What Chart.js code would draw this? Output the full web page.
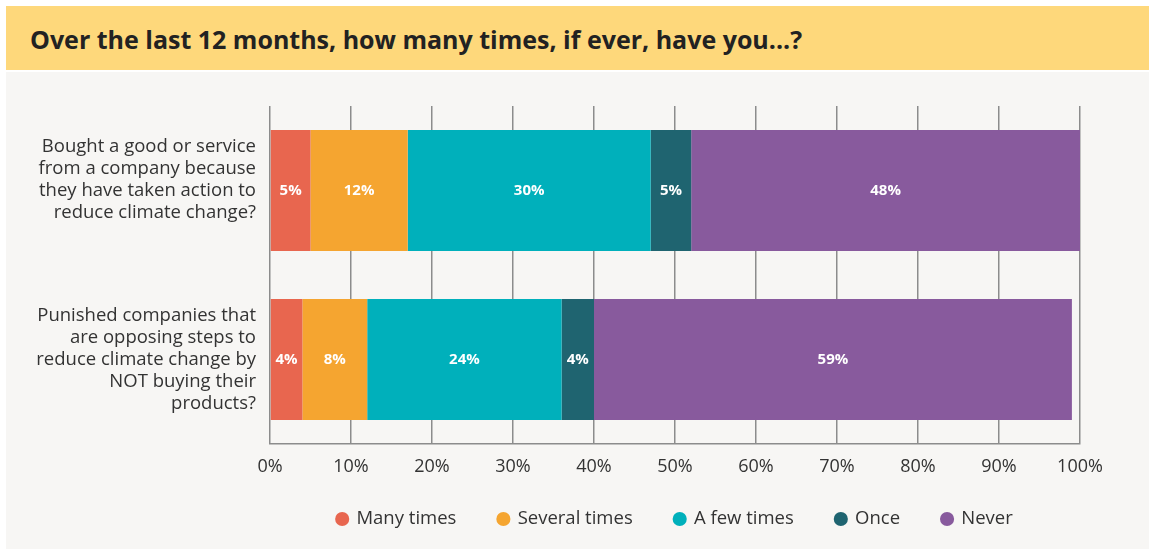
<!DOCTYPE html>
<html>
<head>
<meta charset="utf-8">
<script src="https://cdn.jsdelivr.net/npm/chart.js@4"></script>
<style>
	body { margin:0; background:#fff; font-family:"Open Sans", sans-serif; }
	#title_band {
		position:absolute; left:6px; top:6px; width:1143px; height:64px;
		background:#FED87B;
	}
	#title_band h1 {
		margin:0; position:absolute; left:24px; top:17px;
		font-size:25px; font-weight:700; color:#222; line-height:32px;
	}
	#chart_box {
		position:absolute; left:6px; top:72px; width:1143px; height:477px;
		background:#F7F6F4;
	}
</style>
</head>
<body>
<div id="title_band"><h1>Over the last 12 months, how many times, if ever, have you...?</h1></div>
<div id="chart_box"><canvas id="chart" width="1143" height="477"></canvas></div>
<script>
// first label sits a little high in the original, so it gets an empty last line
var categories = [
	["Bought a good or service", "from a company because", "they have taken action to", "reduce climate change?", ""],
	["Punished companies that", "are opposing steps to", "reduce climate change by", "NOT buying their", "products?"]
];
var seriesNames = ["Many times", "Several times", "A few times", "Once", "Never"];
var manyTimes = [5, 4];
var severalTimes = [12, 8];
var fewTimes = [30, 24];
var once = [5, 4];
var never = [48, 59];
var xTicks = [0, 10, 20, 30, 40, 50, 60, 70, 80, 90, 100];

var colors = ["#E8664F", "#F5A530", "#00B0BB", "#1F6470", "#885A9D"];
var gridColor = "#8C8C8C";

var seriesValues = [manyTimes, severalTimes, fewTimes, once, never];
var datasets = seriesValues.map(function(vals, i) {
	return {
		label: seriesNames[i],
		data: vals,
		backgroundColor: colors[i],
		borderWidth: 0,
		categoryPercentage: 1,
		barPercentage: 0.716
	};
});

// white percentage labels in the middle of each segment
var segmentLabels = {
	id: "segmentLabels",
	afterDatasetsDraw: function(chart) {
		var ctx = chart.ctx;
		ctx.save();
		ctx.font = "bold 15px 'Open Sans'";
		ctx.fillStyle = "#fff";
		ctx.textAlign = "center";
		ctx.textBaseline = "middle";
		chart.data.datasets.forEach(function(ds, i) {
			var meta = chart.getDatasetMeta(i);
			meta.data.forEach(function(bar, j) {
				var p = bar.getProps(["x", "y", "base"], true);
				ctx.fillText(ds.data[j] + "%", (p.x + p.base) / 2, p.y);
			});
		});
		ctx.restore();
	}
};

// legend is centred under the plot area (not the whole canvas) and sits a bit higher
var legendUnderPlot = {
	id: "legendUnderPlot",
	afterLayout: function(chart) {
		var lg = chart.legend;
		lg.left = chart.chartArea.left;
		lg.right = chart.chartArea.right;
		lg.width = lg.right - lg.left;
		lg.top = chart.chartArea.bottom + 23.75;
		lg.bottom = lg.top + lg.height;
	}
};

Chart.defaults.font.family = "'Open Sans', sans-serif";
Chart.defaults.color = "#333";

new Chart(document.getElementById("chart"), {
	type: "bar",
	data: { labels: categories, datasets: datasets },
	options: {
		indexAxis: "y",
		responsive: false,
		animation: false,
		layout: { padding: { top: 34, right: 69, left: 0, bottom: 0.5 } },
		scales: {
			x: {
				stacked: true,
				min: 0, max: 100,
				afterBuildTicks: function(scale) {
					scale.ticks = xTicks.map(function(v) { return { value: v }; });
				},
				afterFit: function(scale) { scale.height = 34; },
				grid: { color: gridColor, lineWidth: 1.5, drawTicks: false },
				border: { color: gridColor, width: 1.5 },
				ticks: {
					padding: 12,
					font: { size: 18 },
					color: "#333",
					callback: function(v) { return v + "%"; }
				}
			},
			y: {
				stacked: true,
				afterFit: function(scale) {
					scale.width = 264;
					// multi-line labels should not push the plot down
					scale.paddingTop = 0;
					scale.paddingBottom = 0;
				},
				grid: { display: false, drawTicks: false },
				border: { display: false },
				ticks: { padding: 14, font: { size: 18.5, lineHeight: 1.19 }, color: "#333" }
			}
		},
		plugins: {
			legend: {
				position: "bottom",
				labels: {
					usePointStyle: true,
					pointStyle: "circle",
					boxWidth: 10,
					boxHeight: 10,
					padding: 42,
					font: { size: 18.5 },
					color: "#333"
				}
			},
			tooltip: { enabled: false }
		}
	},
	plugins: [segmentLabels, legendUnderPlot]
});
</script>
</body>
</html>
